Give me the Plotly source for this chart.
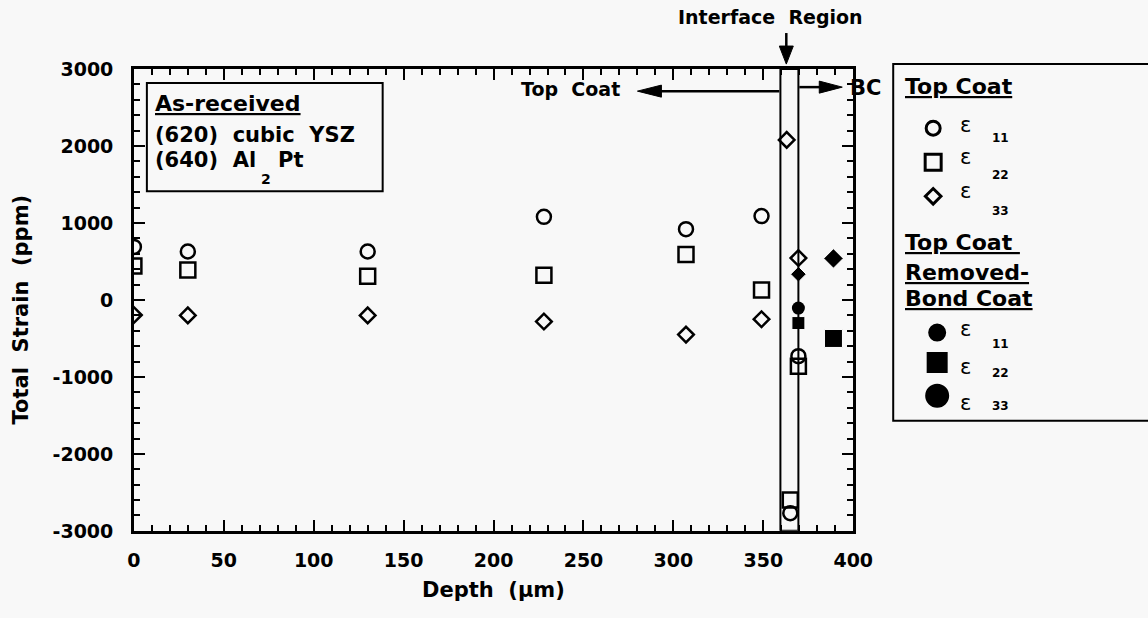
import plotly.graph_objects as go

# ---------------- data ----------------
# Top Coat (open symbols)
tc_depth_e11 = [0, 30, 130, 228, 307, 349, 365, 369.5]
tc_e11 = [690, 630, 630, 1080, 920, 1090, -2770, -730]
tc_depth_e22 = [0, 30, 130, 228, 307, 349, 365, 369.5]
tc_e22 = [440, 390, 310, 320, 590, 130, -2600, -860]
tc_depth_e33 = [0, 30, 130, 228, 307, 349, 363, 369.5]
tc_e33 = [-195, -200, -200, -280, -450, -250, 2080, 545]

# Top Coat Removed - Bond Coat (filled symbols)
bc_depth_e11 = [369.5]
bc_e11 = [-105]
bc_depth_e22 = [369.5, 389]
bc_e22 = [-300, -500]
bc_depth_e33 = [369.5, 389]
bc_e33 = [335, 540]

interface_region = [359.5, 369.5]
x_ticks = [0, 50, 100, 150, 200, 250, 300, 350, 400]
y_ticks = [-3000, -2000, -1000, 0, 1000, 2000, 3000]
y_ticktext = ["-3000", "-2000", "-1000", "0", "1000", "2000", "3000"]

# ---------------- helpers ----------------
W, H = 1148, 618
# observed on-screen placement of the plotly paper
OX, OY, PW, PH = 6, 11, 1122, 595
FONT = "DejaVu Sans"
BG = "#f8f8f8"


def px(x):
    return (x - OX) / PW


def py(y):
    return 1 - (y - OY) / PH


def bold(size):
    return dict(family=FONT, size=size, color="black", weight="bold")


fig = go.Figure()

open_line = dict(width=2.5, color="black")
fig.add_trace(go.Scatter(x=tc_depth_e11, y=tc_e11, mode="markers",
                         marker=dict(symbol="circle-open", size=14, color="black", opacity=1, line=open_line)))
fig.add_trace(go.Scatter(x=tc_depth_e22, y=tc_e22, mode="markers",
                         marker=dict(symbol="square-open", size=15, color="black", opacity=1, line=open_line)))
fig.add_trace(go.Scatter(x=tc_depth_e33, y=tc_e33, mode="markers",
                         marker=dict(symbol="diamond-open", size=12, color="black", opacity=1, line=open_line)))
fig.add_trace(go.Scatter(x=bc_depth_e11, y=bc_e11, mode="markers",
                         marker=dict(symbol="circle", size=13, color="black", opacity=1)))
fig.add_trace(go.Scatter(x=bc_depth_e22, y=bc_e22, mode="markers",
                         marker=dict(symbol="square", size=[13, 18], color="black", opacity=1)))
fig.add_trace(go.Scatter(x=bc_depth_e33, y=bc_e33, mode="markers",
                         marker=dict(symbol="diamond", size=[12, 15], color="black", opacity=1)))

# ---------------- legend symbols (overlay axis in screen-pixel units) ----------------
leg_x = [933, 933, 933, 937, 937, 937]
leg_y = [128, 162, 196, 332, 362, 395]
leg_sym = ["circle-open", "square-open", "diamond-open", "circle", "square", "circle"]
leg_size = [14, 16, 12, 15, 18, 21]
for lx, ly, s, sz in zip(leg_x, leg_y, leg_sym, leg_size):
    fig.add_trace(go.Scatter(x=[lx], y=[ly], mode="markers", xaxis="x2", yaxis="y2",
                             marker=dict(symbol=s, size=sz, color="black", opacity=1,
                                         line=dict(width=3, color="black"))))

axis_common = dict(showline=True, linewidth=2.5, linecolor="black", mirror="allticks",
                   ticks="inside", ticklen=11, tickwidth=2, tickcolor="black",
                   showgrid=False, zeroline=False, tickfont=bold(19))

fig.update_layout(
    width=W, height=H, margin=dict(l=0, r=0, t=0, b=0),
    paper_bgcolor=BG, plot_bgcolor=BG, showlegend=False,
    xaxis=dict(domain=[px(133), px(853)], range=[0, 400], tickvals=x_ticks,
               minor=dict(dtick=10, ticks="inside", ticklen=6, tickwidth=2, tickcolor="black"),
               ticklabelstandoff=11, **axis_common),
    yaxis=dict(domain=[py(530), py(69)], range=[-3000, 3000], tickvals=y_ticks, ticktext=y_ticktext,
               minor=dict(dtick=200, ticks="inside", ticklen=6, tickwidth=2, tickcolor="black"),
               ticklabelstandoff=14, **axis_common),
    xaxis2=dict(domain=[px(880), 1], range=[880, OX + PW], visible=False, anchor="y2"),
    yaxis2=dict(domain=[0, 1], range=[OY + PH, OY], visible=False, anchor="x2"),
)

shapes = []
# interface region box
shapes.append(dict(type="rect", xref="x", yref="y", x0=interface_region[0], x1=interface_region[1],
                   y0=-3000, y1=3000, line=dict(color="black", width=2)))
# As-received box
shapes.append(dict(type="rect", xref="paper", yref="paper", x0=px(146), x1=px(382),
                   y0=py(191), y1=py(83), line=dict(color="black", width=2)))
# legend box (right edge runs off the page)
shapes.append(dict(type="rect", xref="paper", yref="paper", x0=px(893), x1=px(1175),
                   y0=py(420), y1=py(64), line=dict(color="black", width=2)))


def line(x0, y0, x1, y1, w=2.5):
    return dict(type="line", xref="paper", yref="paper", x0=px(x0), y0=py(y0), x1=px(x1), y1=py(y1),
                line=dict(color="black", width=w))


def tri(pts):
    path = "M " + " L ".join(f"{px(a):.5f},{py(b):.5f}" for a, b in pts) + " Z"
    return dict(type="path", xref="paper", yref="paper", path=path, fillcolor="black",
                line=dict(color="black", width=1))


# interface arrow
shapes.append(line(786, 33, 786, 47, 2.5))
shapes.append(tri([(779, 46), (793, 46), (786, 64)]))
# top coat arrow
shapes.append(line(660, 91, 779, 91, 2.5))
shapes.append(tri([(661, 85), (661, 97), (637, 91)]))
# BC arrow
shapes.append(line(799, 87, 820, 87, 2.5))
shapes.append(tri([(819, 81), (819, 93), (842, 87)]))
fig.update_layout(shapes=shapes)

ann = []


def text(t, x, y, size, xanchor="left", angle=0, weight="bold"):
    f = bold(size)
    f["weight"] = weight
    ann.append(dict(text=t, xref="paper", yref="paper", x=px(x), y=py(y), xanchor=xanchor,
                    yanchor="middle", showarrow=False, font=f, textangle=angle))


NB = "\u00a0"
text(f"Total{NB} Strain{NB} (ppm)", 20, 309, 21, "center", -90)
text(f"Depth{NB} (µm)", 493, 589, 21, "center")
text(f"Interface{NB} Region", 770, 17, 19, "center")
text(f"Top{NB} Coat", 570, 89, 19, "center")
text("BC", 865, 88, 21, "center")

# As-received box text
text("<u>As-received</u>", 152, 103, 22)
text(f"(620){NB} cubic{NB} YSZ", 152, 135, 21)
text(f"(640){NB} Al", 152, 160, 21)
text("2", 265, 179, 14, "center")
text("Pt", 275, 160, 21)

# legend text
text(f"<u>Top{NB}Coat</u>", 903, 86, 22)
text(f"<u>Top{NB}Coat{NB}</u>", 903, 242, 22)
text("<u>Removed-</u>", 903, 272, 22)
text(f"<u>Bond{NB}Coat</u>", 903, 298, 22)
eps_rows = [(125, 138, "11"), (157, 175, "22"), (191, 211, "33"),
            (328, 343, "11"), (366, 372, "22"), (402, 405, "33")]
for ey, sy, sub in eps_rows:
    text("ε", 958, ey, 21, weight="normal")
    text(sub, 990, sy, 12)

fig.update_layout(annotations=ann)
fig.write_html("out.html")
